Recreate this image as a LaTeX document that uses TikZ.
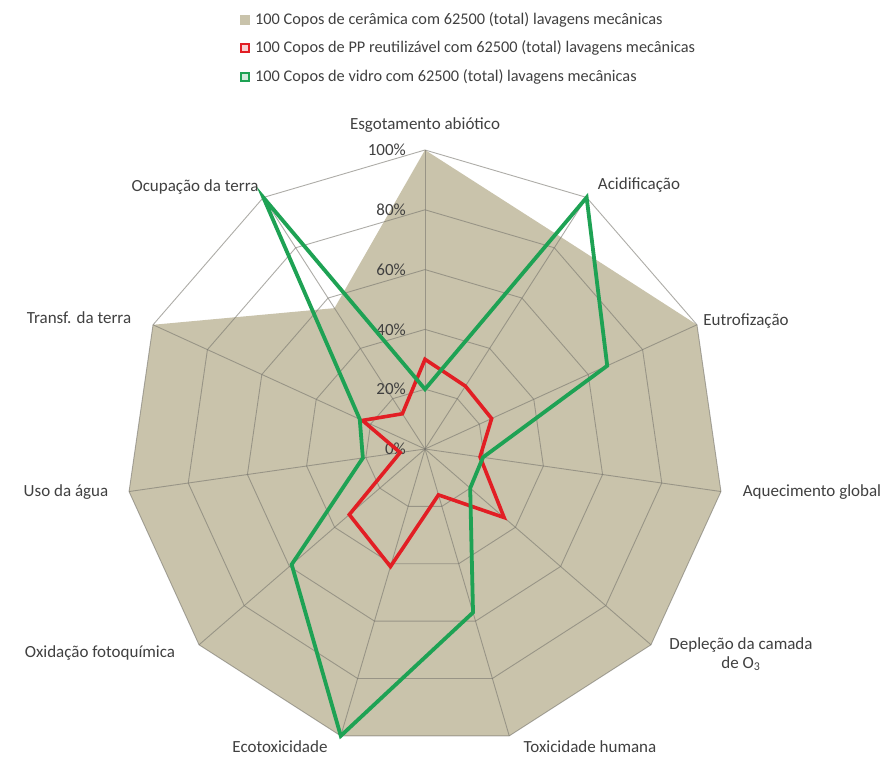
\documentclass[tikz,border=0pt]{standalone}
\usepackage{fontspec}
\setmainfont{Carlito}
\begin{document}
\definecolor{tanfill}{RGB}{201,195,171}
\definecolor{ppred}{RGB}{226,30,36}
\definecolor{glassgreen}{RGB}{30,162,84}
\definecolor{gridgray}{RGB}{120,118,110}
\definecolor{txt}{RGB}{64,64,64}
\begin{tikzpicture}[x=1pt,y=1pt,
  lbl/.style={font=\fontsize{17}{19}\selectfont, text=txt, inner sep=0pt},
  leg/.style={font=\fontsize{16.3}{18}\selectfont, text=txt, inner sep=0pt, anchor=west},
  pct/.style={lbl, anchor=east},
  gridline/.style={draw=gridgray, line width=0.9pt, opacity=0.6},
  ppline/.style={draw=ppred, line width=3.6pt, line join=miter},
  glassline/.style={draw=glassgreen, line width=3.8pt, line join=miter},
  legtan/.style={fill=tanfill, minimum size=10pt, inner sep=0pt},
  legline/.style={draw=#1, fill=white!80!#1, line width=2.6pt, minimum size=8pt, inner sep=0pt}]
\useasboundingbox (0,0) rectangle (895,757);
\fill[white] (0,0) rectangle (895,757);

% legend
\node[legtan] (m1) at (245,737) {};
\node[leg] (t1) at (255,737) {100 Copos de cerâmica com 62500 (total) lavagens mecânicas};
\node[legline=ppred] (m2) at (245,709) {};
\node[leg] (t2) at (255,709) {100 Copos de PP reutilizável com 62500 (total) lavagens mecânicas};
\node[legline=glassgreen] (m3) at (245,680) {};
\node[leg] (t3) at (255,680) {100 Copos de vidro com 62500 (total) lavagens mecânicas};

\begin{scope}[shift={(425,308)}]
  % ceramic series (filled area)
  \foreach \v [count=\i from 0] in {1,0.842,1,1,1,1,1,1,1,1,0.56}
    \coordinate (c\i) at ({90-\i*360/11}:{299*\v});
  \fill[tanfill] (c0) -- (c1) -- (c2) -- (c3) -- (c4) -- (c5) -- (c6) -- (c7) -- (c8) -- (c9) -- (c10) -- cycle;

  % radial grid: rings and spokes
  \foreach \r in {0.2,0.4,0.6,0.8,1.0}
    \draw[gridline] (90:{299*\r}) \foreach \i in {1,...,10} { -- ({90-\i*360/11}:{299*\r}) } -- cycle;
  \foreach \i in {0,...,10}
    \draw[gridline] (0,0) -- ({90-\i*360/11}:299);

  % scale labels
  \node[pct] (p0) at (-19,0) {0\%};
  \node[pct] (p20) at (-19,59.8) {20\%};
  \node[pct] (p40) at (-19,119.6) {40\%};
  \node[pct] (p60) at (-19,179.4) {60\%};
  \node[pct] (p80) at (-19,239.2) {80\%};
  \node[pct] (p100) at (-19,299) {100\%};

  % reusable PP series
  \foreach \v [count=\i from 0] in {0.30,0.25,0.245,0.186,0.35,0.16,0.41,0.335,0.084,0.23,0.14}
    \coordinate (r\i) at ({90-\i*360/11}:{299*\v});
  \draw[ppline] (r0) -- (r1) -- (r2) -- (r3) -- (r4) -- (r5) -- (r6) -- (r7) -- (r8) -- (r9) -- (r10) -- cycle;

  % glass series
  \foreach \v [count=\i from 0] in {0.20,1.0,0.67,0.196,0.20,0.57,1.0,0.59,0.21,0.24,1.0}
    \coordinate (g\i) at ({90-\i*360/11}:{299*\v});
  \draw[glassline] (g0) -- (g1) -- (g2) -- (g3) -- (g4) -- (g5) -- (g6) -- (g7) -- (g8) -- (g9) -- (g10) -- cycle;
\end{scope}

% axis labels
\node[lbl] (a0) at (425,632) {Esgotamento abiótico};
\node[lbl] (a1) at (639,572) {Acidificação};
\node[lbl] (a2) at (746,436) {Eutrofização};
\node[lbl] (a3) at (812,265) {Aquecimento global};
\node[lbl, align=center] (a4) at (741,103) {Depleção da camada\\de O\textsubscript{3}};
\node[lbl] (a5) at (590,10) {Toxicidade humana};
\node[lbl] (a6) at (280,10) {Ecotoxicidade};
\node[lbl] (a7) at (100,104) {Oxidação fotoquímica};
\node[lbl] (a8) at (66,265) {Uso da água};
\node[lbl] (a9) at (79,439) {Transf. da terra};
\node[lbl] (a10) at (195,570) {Ocupação da terra};
\end{tikzpicture}
\end{document}
